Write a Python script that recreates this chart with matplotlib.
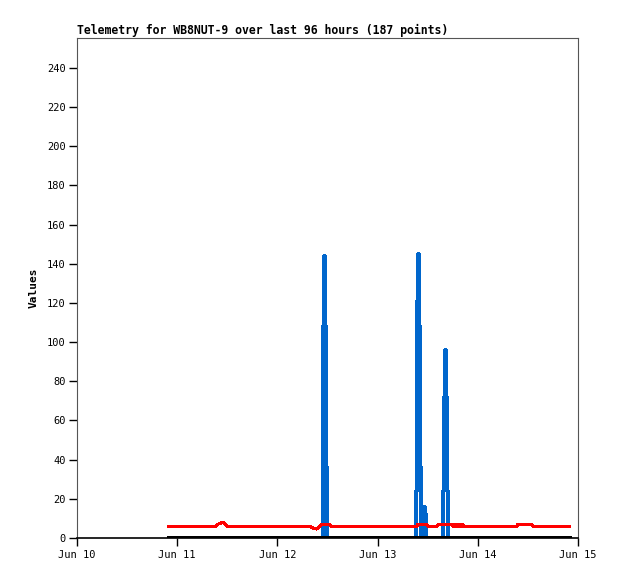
import datetime as dt
import matplotlib
matplotlib.use("Agg")
import matplotlib.pyplot as plt
import matplotlib.dates as mdates

base = dt.datetime(2024, 6, 10)

# red series: (hours since Jun 10 00:00, value)
red_hours = [22.0, 33.2, 33.7, 34.4, 34.9, 35.4, 35.9, 55.8, 56.6, 57.4, 58.0,
             58.5, 60.5, 60.9, 81.4, 81.6, 83.8, 84.0, 86.3, 86.5, 89.7, 90.0,
             90.3, 90.6, 90.9, 91.2, 91.5, 91.8, 92.1, 92.4, 92.8, 105.3, 105.6,
             108.9, 109.2, 117.9]
red_vals = [6, 6, 7, 7.5, 8, 7.5, 6, 6, 5, 4.6, 5.5,
            7, 7, 6, 6, 7, 7, 6, 6, 7, 7, 6,
            7, 6, 6, 7, 6, 7, 6, 7, 6, 6, 7,
            7, 6, 6]

# blue series (value holds until next reading)
blue_hours = [22.0,
              58.83, 59.02, 59.23, 59.38, 59.62, 59.83,
              81.15, 81.32, 81.44, 81.70, 81.92, 82.09, 82.28,
              82.99, 83.11, 83.28, 83.50,
              87.66, 87.98, 88.26, 88.43, 88.67, 88.86,
              117.9]
blue_vals = [0,
             36, 108, 144, 108, 36, 0,
             24, 72, 121, 145, 108, 36, 0,
             12, 16, 12, 0,
             24, 72, 96, 72, 24, 0,
             0]

# black series (flat zero)
black_hours = [22.0, 117.9]
black_vals = [0, 0]


def to_dates(hours):
    return [base + dt.timedelta(hours=h) for h in hours]


plt.rcParams['font.family'] = ['DejaVu Sans Mono']

fig = plt.figure(figsize=(6.18, 5.79), dpi=100)
ax = fig.add_axes([77 / 618, 1 - 538 / 579, 501 / 618, 500 / 579])

ax.plot(to_dates(blue_hours), blue_vals, color='#0066cc', lw=1.5,
        drawstyle='steps-post', antialiased=False)
ax.plot(to_dates(red_hours), red_vals, color='#ff0000', lw=1.5, antialiased=False)
ax.plot(to_dates(black_hours), black_vals, color='black', lw=2.5,
        antialiased=False, zorder=5)

ax.set_xlim(base, base + dt.timedelta(days=5))
ax.set_ylim(0, 255.3)
ax.set_yticks(range(0, 241, 20))
ax.xaxis.set_major_locator(mdates.DayLocator())
ax.xaxis.set_major_formatter(mdates.DateFormatter('%b %d'))

ax.tick_params(direction='out', length=6, width=1, labelsize=7.5, colors='black')
ax.tick_params(axis='x', pad=3)
ax.tick_params(axis='y', pad=2)
for side in ['top', 'right', 'left']:
    ax.spines[side].set_color('#555555')
ax.spines['bottom'].set_color('black')
ax.spines['bottom'].set_linewidth(1.2)

ax.set_ylabel('Values', fontsize=8, fontweight='bold', labelpad=6)
ax.set_title('Telemetry for WB8NUT-9 over last 96 hours (187 points)',
             fontsize=8.3, fontweight='bold', loc='left', pad=3)

fig.savefig('out.png', dpi=100)
